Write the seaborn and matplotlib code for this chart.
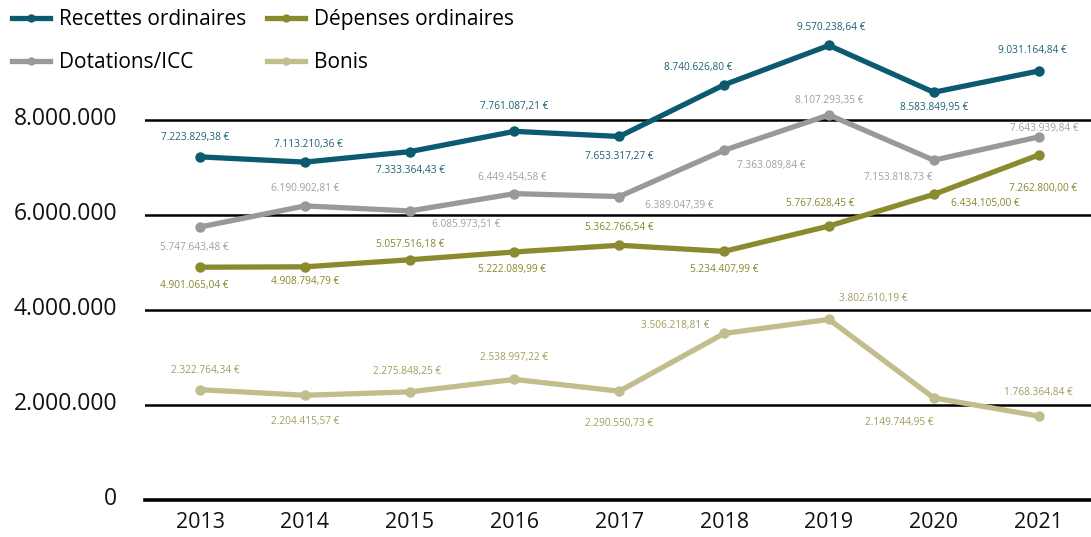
import matplotlib
matplotlib.use("Agg")
import matplotlib.pyplot as plt
import matplotlib.transforms as mtransforms
import seaborn as sns
import pandas as pd
from matplotlib.ticker import FuncFormatter, FixedLocator
from matplotlib.lines import Line2D

years = [2013, 2014, 2015, 2016, 2017, 2018, 2019, 2020, 2021]
recettes = [7223829.38, 7113210.36, 7333364.43, 7761087.21, 7653317.27, 8740626.80, 9570238.64, 8583849.95, 9031164.84]
dotations = [5747643.48, 6190902.81, 6085973.51, 6449454.58, 6389047.39, 7363089.84, 8107293.35, 7153818.73, 7643939.84]
depenses = [4901065.04, 4908794.79, 5057516.18, 5222089.99, 5362766.54, 5234407.99, 5767628.45, 6434105.00, 7262800.00]
bonis = [2322764.34, 2204415.57, 2275848.25, 2538997.22, 2290550.73, 3506218.81, 3802610.19, 2149744.95, 1768364.84]
series_names = ["Recettes ordinaires", "Dotations/ICC", "Dépenses ordinaires", "Bonis"]
y_ticks = [0, 2000000, 4000000, 6000000, 8000000]

# styling
line_colors = ["#0b5a6f", "#999999", "#8c8a2e", "#c2bd8c"]
text_colors = ["#1d6074", "#a0a0a0", "#8a862a", "#a39c5e"]
# label offsets in pixels (dx, dy up positive)
offsets = [
    [(-4.5, 19.3), (3.3, 17.7), (1, -19), (0, 25), (0, -20), (-25.5, 17.6), (2.7, 18.3), (0.7, -15), (-5.8, 20.3)],
    [(-6, -20.7), (0, 17), (57, -13.3), (-2.5, 16), (59.6, -9), (47, -15.7), (0, 14), (-35.3, -17.7), (6, 8.4)],
    [(-6, -18.3), (0, -15), (1, 15.3), (-2.5, -17.7), (0, 17.3), (0.5, -18.6), (-8.6, 22.4), (52, -9), (4.7, -33)],
    [(5.5, 19.3), (0, -26), (-2.7, 20.6), (0, 21.6), (0, -32.6), (-48.4, 8.3), (44.7, 20.7), (-35, -24.4), (-0.5, 23.3)],
]

plt.rcParams['font.family'] = ['Open Sans', 'DejaVu Sans']

rows = []
for name, vals in zip(series_names, [recettes, dotations, depenses, bonis]):
    for i, (yr, v) in enumerate(zip(years, vals)):
        rows.append({"idx": i, "year": yr, "value": v, "serie": name})
df = pd.DataFrame(rows)

fig = plt.figure(figsize=(10.91, 5.37), dpi=100)
ax = fig.add_axes([145 / 1091, 37 / 537, 1 - 145 / 1091, (500 - 25) / 537])

palette = dict(zip(series_names, line_colors))
sns.lineplot(data=df, x="idx", y="value", hue="serie", hue_order=series_names,
             palette=palette, linewidth=3.8, marker="o", markersize=7.5,
             markeredgewidth=0, legend=False, ax=ax, zorder=3)

fmt = lambda v: f"{v:,.2f}".replace(",", "X").replace(".", ",").replace("X", ".") + " €"
for s, (name, vals) in enumerate(zip(series_names, [recettes, dotations, depenses, bonis])):
    for i, v in enumerate(vals):
        dx, dy = offsets[s][i]
        ax.annotate(fmt(v), (i, v), xytext=(dx * 0.72, dy * 0.72), textcoords="offset points",
                    ha="center", va="center", fontsize=7.3, color=text_colors[s], zorder=4)

ax.set_xlim(-0.525, 8.5)
ax.set_ylim(0, 10000000)
ax.yaxis.set_major_locator(FixedLocator(y_ticks))
ax.yaxis.set_major_formatter(FuncFormatter(lambda v, p: f"{int(v):,}".replace(",", ".")))
ax.set_xticks(range(len(years)))
ax.set_xticklabels([str(y) for y in years])
for t in y_ticks[1:]:
    ax.axhline(t, color="black", lw=1.8, zorder=1)
for sp in ["top", "right", "left"]:
    ax.spines[sp].set_visible(False)
ax.spines["bottom"].set_linewidth(2.6)
ax.spines["bottom"].set_color("black")
ax.tick_params(axis="y", length=0, pad=20, labelsize=16.5, colors="#111111")
ax.tick_params(axis="x", length=0, pad=9, labelsize=15.5, colors="#111111")
shift = mtransforms.ScaledTranslation(0, 4 / 100, fig.dpi_scale_trans)
for lab in ax.get_yticklabels():
    lab.set_transform(lab.get_transform() + shift)
ax.set_xlabel("")
ax.set_ylabel("")
ax.set_facecolor("white")

handles = [Line2D([0], [0], color=c, lw=3.8, marker="o", markersize=6, markeredgewidth=0) for c in line_colors]
fig.legend(handles, series_names, loc="upper left", bbox_to_anchor=(-0.006, 1.018), ncol=2,
           frameon=False, fontsize=15, handlelength=1.8, handletextpad=0.45,
           columnspacing=1.0, labelspacing=1.05)

fig.savefig("out.png", dpi=100, facecolor="white")
